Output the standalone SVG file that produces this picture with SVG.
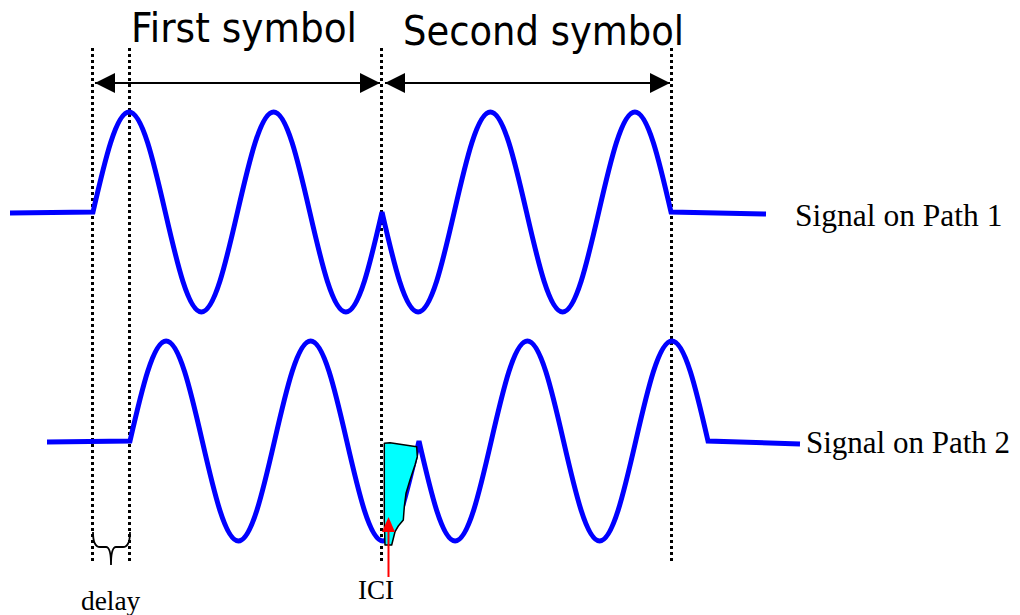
<svg xmlns="http://www.w3.org/2000/svg" width="1020" height="615" viewBox="0 0 1020 615">
  <style>
    .dot { stroke:#000; stroke-width:3; stroke-dasharray:3 3; fill:none; }
    .sig { stroke:#0000FF; stroke-width:5; fill:none; stroke-linejoin:miter; stroke-linecap:butt; }
    .dim { stroke:#000; stroke-width:2; fill:none; }
    .title { font-family:"DejaVu Sans", sans-serif; font-size:40px; fill:#000; }
    .lbl { font-family:"Liberation Serif", "Times New Roman", serif; fill:#000; }
  </style>
  <defs>
    <marker id="ah" markerUnits="userSpaceOnUse" markerWidth="20" markerHeight="20" refX="20" refY="10" orient="auto-start-reverse">
      <path d="M0,0 L20,10 L0,20 Z" fill="#000"/>
    </marker>
  </defs>
  <rect width="1020" height="615" fill="#fff"/>

  <g id="guides">
    <line class="dot" x1="92.5" y1="48" x2="92.5" y2="562"/>
    <line class="dot" x1="129.5" y1="48" x2="129.5" y2="562"/>
    <line class="dot" x1="381.5" y1="48" x2="381.5" y2="562"/>
    <line class="dot" x1="671.5" y1="48" x2="671.5" y2="562"/>
  </g>

  <g id="first-symbol">
    <text class="title" x="131" y="42" textLength="226" lengthAdjust="spacingAndGlyphs">First symbol</text>
  </g>
  <g id="second-symbol">
    <text class="title" x="403" y="45" textLength="281" lengthAdjust="spacingAndGlyphs">Second symbol</text>
  </g>

  <g id="connectors">
    <line class="dim" x1="95" y1="83" x2="380" y2="83" marker-start="url(#ah)" marker-end="url(#ah)"/>
    <line class="dim" x1="385" y1="83" x2="670" y2="83" marker-start="url(#ah)" marker-end="url(#ah)"/>
    <path d="M93,532 Q93,547 100,547 L106,547 Q111,547 111,565 Q111,547 116,547 L123,547 Q130,547 130,532" stroke="#000" stroke-width="1.8" fill="none"/>
  </g>

  <g id="signal-path-1">
    <path class="sig" d="M10,213 L93,212
      c11.79,-51.25 23.11,-100 36.125,-100 c13.015,0 24.335,48.75 36.125,100 c11.79,51.25 23.11,100 36.125,100 c13.015,0 24.335,-48.75 36.125,-100
      c11.79,-51.25 23.11,-100 36.125,-100 c13.015,0 24.335,48.75 36.125,100 c11.79,51.25 23.11,100 36.125,100 c13.015,0 24.335,-48.75 36.125,-100
      c11.79,51.25 23.11,100 36.125,100 c13.015,0 24.335,-48.75 36.125,-100 c11.79,-51.25 23.11,-100 36.125,-100 c13.015,0 24.335,48.75 36.125,100
      c11.79,51.25 23.11,100 36.125,100 c13.015,0 24.335,-48.75 36.125,-100 c11.79,-51.25 23.11,-100 36.125,-100 c13.015,0 24.335,48.75 36.125,100
      L766,214"/>
    <text class="lbl" x="795" y="226" font-size="31.5">Signal on Path 1</text>
  </g>

  <g id="signal-path-2">
    <path class="sig" d="M47,442 L130,441
      c11.79,-51.25 23.11,-100 36.125,-100 c13.015,0 24.335,48.75 36.125,100 c11.79,51.25 23.11,100 36.125,100 c13.015,0 24.335,-48.75 36.125,-100
      c11.79,-51.25 23.11,-100 36.125,-100 c13.015,0 24.335,48.75 36.125,100 c11.79,51.25 23.11,100 36.125,100 c13.015,0 24.335,-48.75 36.125,-100
      c11.79,51.25 23.11,100 36.125,100 c13.015,0 24.335,-48.75 36.125,-100 c11.79,-51.25 23.11,-100 36.125,-100 c13.015,0 24.335,48.75 36.125,100
      c11.79,51.25 23.11,100 36.125,100 c13.015,0 24.335,-48.75 36.125,-100 c11.79,-51.25 23.11,-100 36.125,-100 c13.015,0 24.335,48.75 36.125,100
      L800,444"/>
    <text class="lbl" x="806" y="453" font-size="31">Signal on Path 2</text>
  </g>

  <g id="ici">
    <path d="M384.3,443.3 L390,442.7 L416.7,446.7 L417.3,456.7 L415,465 L410,480 L406,493.3 L404.3,506.7 L403.3,520 L398.3,526 L395,531.7 L391.7,545 L385,545 L384.3,520 Z" fill="#00FFFF" stroke="#000" stroke-width="1.5" stroke-linejoin="round"/>
    <line x1="388.5" y1="577" x2="388.5" y2="530" stroke="#FF0000" stroke-width="2"/>
    <path d="M382,532 L395,532 L388.5,517 Z" fill="#FF0000"/>
    <text class="lbl" x="358" y="599" font-size="27">ICI</text>
  </g>

  <g id="delay">
    <text class="lbl" x="81" y="610" font-size="27.4">delay</text>
  </g>
</svg>
